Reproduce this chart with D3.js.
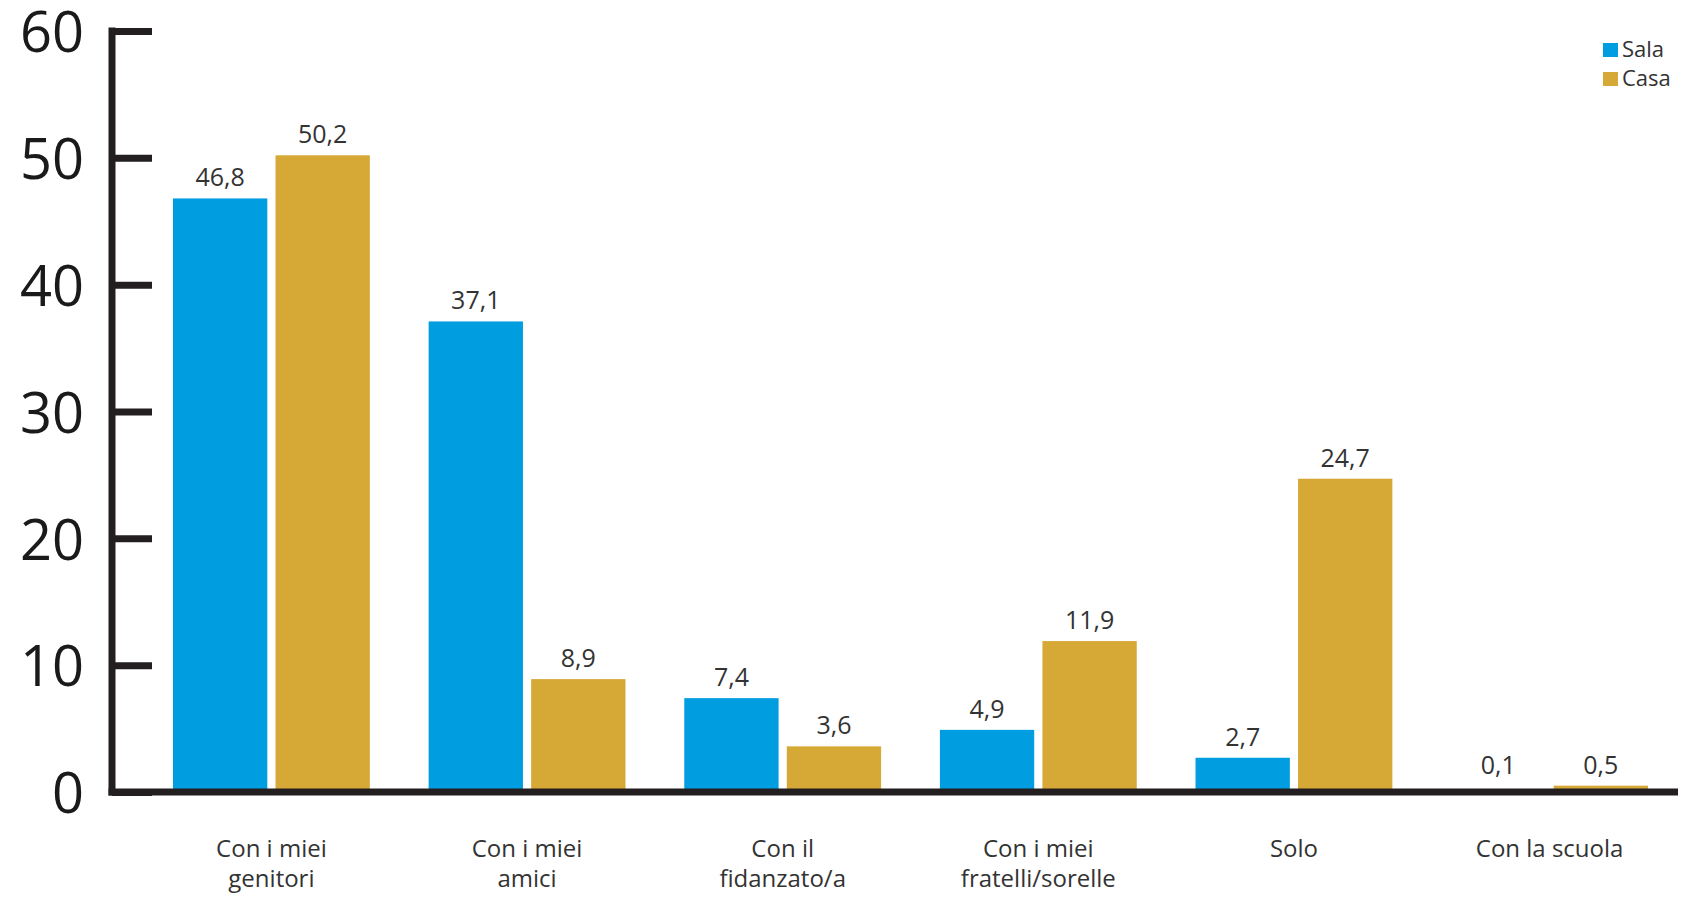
<!DOCTYPE html>
<html>
<head>
<meta charset="utf-8">
<script src="https://cdn.jsdelivr.net/npm/d3@7"></script>
<style>
  body { margin: 0; background: #fff; }
  text { font-family: "Open Sans", sans-serif; }
</style>
</head>
<body>
<div id="wrapper"></div>
<script>
// data
const categories = [
  ["Con i miei", "genitori"],
  ["Con i miei", "amici"],
  ["Con il", "fidanzato/a"],
  ["Con i miei", "fratelli/sorelle"],
  ["Solo"],
  ["Con la scuola"]
];
const seriesNames = ["Sala", "Casa"];
const sala = [46.8, 37.1, 7.4, 4.9, 2.7, 0.1];
const casa = [50.2, 8.9, 3.6, 11.9, 24.7, 0.5];
const yTicks = [0, 10, 20, 30, 40, 50, 60];
const colors = ["#009ee0", "#d6a936"];

const width = 1688, height = 899;
const fmt = v => String(v).replace(".", ",");

const svg = d3.select("#wrapper")
  .append("svg")
    .attr("width", width)
    .attr("height", height);

const y = d3.scaleLinear().domain([0, 60]).range([792, 31]);

const keys = categories.map((c, i) => i);
const x = d3.scaleBand().domain(keys).range([173, 1648]).paddingInner(0.23).paddingOuter(0);
const xs = d3.scaleBand().domain(seriesNames).range([0, x.bandwidth()]).paddingInner(0.08);

const rows = keys.map(i => ({ i, values: [sala[i], casa[i]] }));

/* bars */
const g = svg.selectAll("g.grp")
  .data(rows)
  .enter()
  .append("g")
    .attr("class", "grp")
    .attr("transform", d => "translate(" + x(d.i) + ",0)");

g.selectAll("rect")
  .data(d => d.values.map((v, k) => ({ k, v })))
  .enter()
  .append("rect")
    .attr("x", d => xs(seriesNames[d.k]))
    .attr("y", d => y(d.v))
    .attr("width", xs.bandwidth())
    .attr("height", d => y(0) - y(d.v))
    .attr("fill", d => colors[d.k]);

g.selectAll("text.val")
  .data(d => d.values.map((v, k) => ({ k, v })))
  .enter()
  .append("text")
    .attr("class", "val")
    .attr("x", d => xs(seriesNames[d.k]) + xs.bandwidth() / 2)
    .attr("y", d => Math.min(y(d.v), y(0) - 6) - 12)
    .attr("text-anchor", "middle")
    .attr("font-size", 25)
    .attr("fill", "#333")
    .text(d => fmt(d.v));

/* y axis */
const yAxis = svg.append("g")
  .attr("transform", "translate(112,0)")
  .call(d3.axisRight(y).tickValues(yTicks).tickSize(40).tickFormat(""));
yAxis.select(".domain").remove();
yAxis.selectAll(".tick line").attr("stroke", "#231f20").attr("stroke-width", 7);

svg.append("line")
  .attr("x1", 112).attr("x2", 112)
  .attr("y1", y(60) - 3.5).attr("y2", y(0) + 3.5)
  .attr("stroke", "#231f20").attr("stroke-width", 7);

svg.selectAll("text.ytick")
  .data(yTicks)
  .enter()
  .append("text")
    .attr("class", "ytick")
    .attr("x", 84)
    .attr("y", d => y(d))
    .attr("dy", "0.38em")
    .attr("text-anchor", "end")
    .attr("font-size", 56)
    .attr("fill", "#1a1a1a")
    .text(d => d);

/* x axis */
svg.append("line")
  .attr("x1", 108.5).attr("x2", 1678)
  .attr("y1", y(0)).attr("y2", y(0))
  .attr("stroke", "#231f20").attr("stroke-width", 7);

const labels = svg.selectAll("text.cat")
  .data(rows)
  .enter()
  .append("text")
    .attr("class", "cat")
    .attr("text-anchor", "middle")
    .attr("font-size", 24)
    .attr("fill", "#333")
    .attr("transform", d => "translate(" + (x(d.i) + x.bandwidth() / 2) + ",857)");

labels.selectAll("tspan")
  .data(d => categories[d.i])
  .enter()
  .append("tspan")
    .attr("x", 0)
    .attr("dy", (d, j) => j === 0 ? 0 : 30)
    .text(d => d);

/* legend */
const leg = svg.selectAll("g.leg")
  .data(seriesNames)
  .enter()
  .append("g")
    .attr("class", "leg")
    .attr("transform", (d, k) => "translate(1603," + (43 + k * 29) + ")");
leg.append("rect")
  .attr("width", 15).attr("height", 14)
  .attr("fill", (d, k) => colors[k]);
leg.append("text")
  .attr("x", 19).attr("y", 14)
  .attr("font-size", 22)
  .attr("fill", "#333")
  .text(d => d);
</script>
</body>
</html>
